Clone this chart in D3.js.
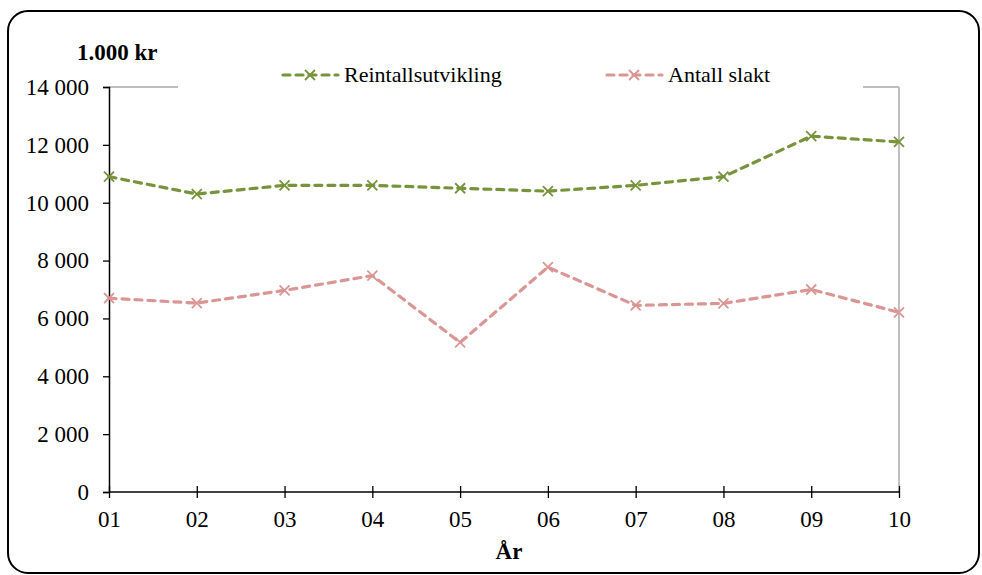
<!DOCTYPE html>
<meta charset="utf-8">
<style>
  body { margin: 0; background: #fff; }
  text { font-family: "Liberation Serif", "Times New Roman", serif; fill: #000; }
</style>
<body>
<svg width="982" height="575"></svg>
<script src="https://d3js.org/d3.v7.min.js"></script>
<script>
// years on the x axis
var years = ["01", "02", "03", "04", "05", "06", "07", "08", "09", "10"]
// values in 1.000 kr
var reintall = [10900, 10300, 10600, 10600, 10500, 10400, 10600, 10900, 12300, 12100]
var slakt = [6700, 6530, 6970, 7480, 5170, 7770, 6450, 6520, 7000, 6210]
var yTicks = [0, 2000, 4000, 6000, 8000, 10000, 12000, 14000]

var series = [
  { name: "Reintallsutvikling", values: reintall, color: "#77933c" },
  { name: "Antall slakt", values: slakt, color: "#d99694" }
]

var svg = d3.select("svg")

// outer frame
svg.append("rect")
  .attr("x", 8).attr("y", 11).attr("width", 971).attr("height", 562)
  .attr("rx", 20)
  .attr("fill", "none").attr("stroke", "#000").attr("stroke-width", 2)

var x = d3.scalePoint().domain(years).range([109, 899])
var y = d3.scaleLinear().domain([0, 14000]).range([492, 87])

var fmt = d3.formatLocale({ decimal: ",", thousands: "\u00a0", grouping: [3], currency: ["", " kr"] }).format(",d")

// plot area border (gray top & right)
svg.append("line").attr("x1", 109).attr("x2", 899).attr("y1", y(14000)).attr("y2", y(14000))
  .attr("stroke", "#bfbfbf").attr("stroke-width", 2)
svg.append("line").attr("x1", 899).attr("x2", 899).attr("y1", y(14000)).attr("y2", y(0))
  .attr("stroke", "#bfbfbf").attr("stroke-width", 2)

// y axis
var yAxis = svg.append("g")
  .attr("transform", "translate(109,0)")
  .call(d3.axisLeft(y).tickValues(yTicks).tickSize(6).tickPadding(14).tickFormat(fmt))
yAxis.select(".domain").attr("stroke", "#000").attr("stroke-width", 1.5)
yAxis.selectAll(".tick line").attr("stroke", "#000").attr("stroke-width", 1.3)
yAxis.selectAll("text").attr("font-size", 23)

// x axis, ticks crossing the line
var xAxis = svg.append("g")
  .attr("transform", "translate(0," + y(0) + ")")
  .call(d3.axisBottom(x).tickSizeInner(6).tickSizeOuter(0).tickPadding(13))
xAxis.select(".domain").attr("stroke", "#000").attr("stroke-width", 1.5)
  .attr("d", "M109,0H899")
xAxis.selectAll(".tick line").attr("stroke", "#000").attr("stroke-width", 1.3)
  .attr("y1", -6).attr("y2", 6)
xAxis.selectAll("text").attr("font-size", 23)

// lines
var line = d3.line()
  .x(function (d, i) { return x(years[i]) })
  .y(function (d) { return y(d) })

function cross(g, cx, cy, color, s) {
  g.append("path")
    .attr("d", "M" + (cx - s) + "," + (cy - s) + "L" + (cx + s) + "," + (cy + s) +
      "M" + (cx - s) + "," + (cy + s) + "L" + (cx + s) + "," + (cy - s))
    .attr("stroke", color).attr("stroke-width", 1.8).attr("fill", "none")
}

series.forEach(function (s) {
  var g = svg.append("g")
  g.append("path")
    .datum(s.values)
    .attr("d", line)
    .attr("fill", "none")
    .attr("stroke", s.color)
    .attr("stroke-width", 3.2)
    .attr("stroke-dasharray", "7,6")
    .attr("stroke-linecap", "round")
  s.values.forEach(function (v, i) { cross(g, x(years[i]), y(v), s.color, 5) })
})

// legend with white box covering the top border
svg.append("rect").attr("x", 178).attr("y", 80).attr("width", 685).attr("height", 14).attr("fill", "#fff")
var legendX = [283, 607]
series.forEach(function (s, i) {
  var lg = svg.append("g").attr("transform", "translate(" + legendX[i] + ",75)")
  lg.append("line").attr("x1", 0).attr("x2", 55).attr("y1", 0).attr("y2", 0)
    .attr("stroke", s.color).attr("stroke-width", 3.2)
    .attr("stroke-dasharray", "7,6").attr("stroke-linecap", "round")
  cross(lg, 27, 0, s.color, 5)
  lg.append("text").attr("x", 61).attr("y", 7).attr("font-size", 22).text(s.name)
})

// titles
svg.append("text").attr("x", 77).attr("y", 60).attr("font-size", 23).attr("font-weight", "bold").text("1.000 kr")
svg.append("text").attr("x", 509).attr("y", 559).attr("text-anchor", "middle")
  .attr("font-size", 23).attr("font-weight", "bold").text("År")
</script>
</body>
